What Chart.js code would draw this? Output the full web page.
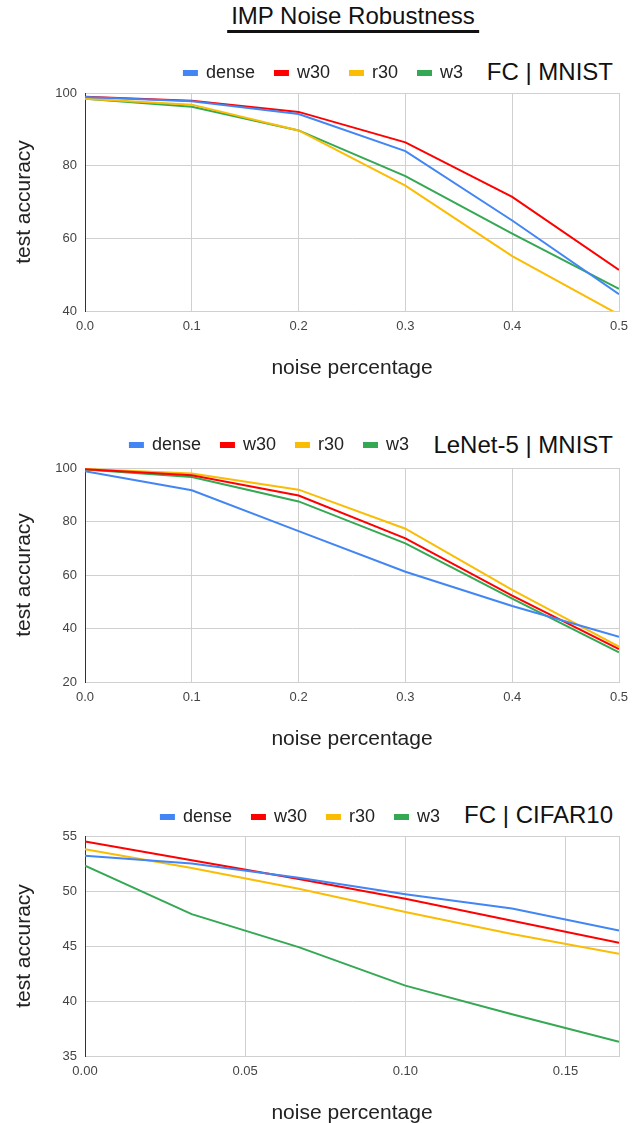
<!DOCTYPE html>
<html>
<head>
<meta charset="utf-8">
<script src="https://cdn.jsdelivr.net/npm/chart.js@4.4.1/dist/chart.umd.min.js"></script>
<style>
html,body{margin:0;padding:0;background:#fff;overflow:hidden;width:639px;height:1123px;}
.main-title{position:absolute;left:353px;top:2px;transform:translateX(-50%);font-family:"Liberation Sans",Arial,sans-serif;font-size:24px;line-height:28px;color:#111;border-bottom:3px solid #111;padding:0 4px;white-space:nowrap;}
.sub{position:absolute;right:26px;font-family:"Liberation Sans",Arial,sans-serif;font-size:24px;line-height:28px;color:#111;white-space:nowrap;}
.wrap{position:absolute;left:0;width:639px;height:400px;}
</style>
</head>
<body>
<div class="main-title">IMP Noise Robustness</div>
<div class="sub" id="t1" style="top:58px">FC | MNIST</div>
<div class="sub" id="t2" style="top:431px">LeNet-5 | MNIST</div>
<div class="sub" id="t3" style="top:801px">FC | CIFAR10</div>
<div class="wrap" id="w1"><canvas id="c1"></canvas></div>
<div class="wrap" id="w2"><canvas id="c2"></canvas></div>
<div class="wrap" id="w3"><canvas id="c3"></canvas></div>
<script>
// ---- data ----
const seriesNames = ['dense', 'w30', 'r30', 'w3'];
const seriesColors = ['#4285f4', '#ff0000', '#fbbc04', '#34a853'];

const mnistNoise = [0.0, 0.1, 0.2, 0.3, 0.4, 0.5];
const mnistTicks = [0.0, 0.1, 0.2, 0.3, 0.4, 0.5];
const mnistTickLabels = ['0.0', '0.1', '0.2', '0.3', '0.4', '0.5'];

const fcMnistDense = [98.9, 97.7, 94.2, 84.0, 64.9, 44.6];
const fcMnistW30   = [99.0, 97.9, 94.8, 86.4, 71.4, 51.3];
const fcMnistR30   = [98.4, 96.8, 89.7, 74.5, 55.1, 39.0];
const fcMnistW3    = [98.4, 96.2, 89.7, 77.1, 61.3, 46.1];

const lenetDense = [98.8, 91.7, 76.4, 61.2, 48.4, 36.9];
const lenetW30   = [99.5, 97.3, 89.7, 73.7, 52.3, 32.3];
const lenetR30   = [99.6, 97.9, 91.9, 77.3, 54.4, 33.2];
const lenetW3    = [99.4, 96.6, 87.5, 71.8, 51.2, 31.1];

const cifarNoise = [0.0, 0.0333, 0.0667, 0.1, 0.1333, 0.1667];
const cifarTicks = [0.0, 0.05, 0.10, 0.15, 0.1667];
const cifarTickLabels = ['0.00', '0.05', '0.10', '0.15', ''];

const cifarDense = [53.2, 52.5, 51.2, 49.7, 48.4, 46.4];
const cifarW30   = [54.5, 52.8, 51.1, 49.3, 47.3, 45.3];
const cifarR30   = [53.8, 52.1, 50.2, 48.1, 46.1, 44.3];
const cifarW3    = [52.3, 47.9, 44.9, 41.4, 38.8, 36.3];

const yTitle = 'test accuracy';
const xTitle = 'noise percentage';

// ---- helpers ----
const FONT = '"Liberation Sans", Arial, sans-serif';

const legendShift = {
  id: 'legendShift',
  afterLayout(chart, args, opts) {
    const lg = chart.legend;
    if (!lg) return;
    const lab = chart.options.plugins.legend.labels;
    const centerY = chart.chartArea.top - opts.dy;
    lg.top = centerY - lab.padding - lab.font.size / 2;
    lg.bottom = lg.top + lg.height;
    if (opts.right != null) lg.right = opts.right;
  }
};

function buildChart(n, xs, seriesVals, cfg) {
  const wrap = document.getElementById('w' + n);
  const canvas = document.getElementById('c' + n);
  const sub = document.getElementById('t' + n);
  const legendRight = sub.offsetLeft - 4;
  const datasets = seriesVals.map((vals, i) => ({
    label: seriesNames[i],
    data: xs.map((x, j) => ({x: x, y: vals[j]})),
    borderColor: seriesColors[i],
    backgroundColor: seriesColors[i],
    borderWidth: 2,
    pointRadius: 0,
    tension: 0
  }));
  const chart = new Chart(canvas, {
    type: 'line',
    data: {datasets},
    plugins: [legendShift],
    options: {
      animation: false,
      responsive: true,
      maintainAspectRatio: false,
      layout: {padding: {top: 6, right: 20, left: 0, bottom: 0}},
      plugins: {
        legend: {
          position: 'top',
          align: 'end',
          labels: {
            boxWidth: 13,
            boxHeight: 4,
            padding: 20,
            color: '#222',
            font: {family: FONT, size: 18}
          }
        },
        legendShift: {dy: cfg.legendDy, right: legendRight},
        tooltip: {enabled: false}
      },
      scales: {
        x: {
          type: 'linear',
          min: xs[0],
          max: cfg.xMax,
          afterBuildTicks: s => { s.ticks = cfg.ticks.map(v => ({value: v})); },
          afterFit: s => { s.height = 70; },
          ticks: {
            autoSkip: false,
            maxRotation: 0,
            padding: 8,
            color: '#444',
            font: {family: FONT, size: 13},
            callback: (v, i) => cfg.tickLabels[i]
          },
          grid: {
            drawTicks: false,
            color: c => (c.tick && c.tick.value === 0 ? 'rgba(0,0,0,0)' : '#d0d0d0')
          },
          border: {color: '#d0d0d0'},
          title: {
            display: true,
            text: xTitle,
            color: '#222',
            font: {family: FONT, size: 21},
            padding: {top: 0, bottom: 0}
          }
        },
        y: {
          min: cfg.yMin,
          max: cfg.yMax,
          afterFit: s => { s.width = 85; },
          ticks: {
            stepSize: cfg.yStep,
            padding: 8,
            color: '#444',
            font: {family: FONT, size: 13}
          },
          grid: {drawTicks: false, color: '#d0d0d0'},
          border: {color: '#333'},
          title: {
            display: true,
            text: yTitle,
            color: '#222',
            font: {family: FONT, size: 21},
            padding: {top: 12, bottom: 0}
          }
        }
      }
    }
  });
  const t = chart.chartArea.top;
  const h = Math.round(t + (cfg.areaBottom - cfg.areaTop) + 70);
  wrap.style.top = (cfg.areaTop - t) + 'px';
  wrap.style.height = h + 'px';
  chart.resize(639, h);
  return chart;
}

buildChart(1, mnistNoise, [fcMnistDense, fcMnistW30, fcMnistR30, fcMnistW3], {
  xMax: 0.5, ticks: mnistTicks, tickLabels: mnistTickLabels,
  yMin: 40, yMax: 100, yStep: 20, areaTop: 93, areaBottom: 311, legendDy: 20
});
buildChart(2, mnistNoise, [lenetDense, lenetW30, lenetR30, lenetW3], {
  xMax: 0.5, ticks: mnistTicks, tickLabels: mnistTickLabels,
  yMin: 20, yMax: 100, yStep: 20, areaTop: 468, areaBottom: 682, legendDy: 23
});
buildChart(3, cifarNoise, [cifarDense, cifarW30, cifarR30, cifarW3], {
  xMax: 0.1667, ticks: cifarTicks, tickLabels: cifarTickLabels,
  yMin: 35, yMax: 55, yStep: 5, areaTop: 836, areaBottom: 1056, legendDy: 19
});
</script>
</body>
</html>
